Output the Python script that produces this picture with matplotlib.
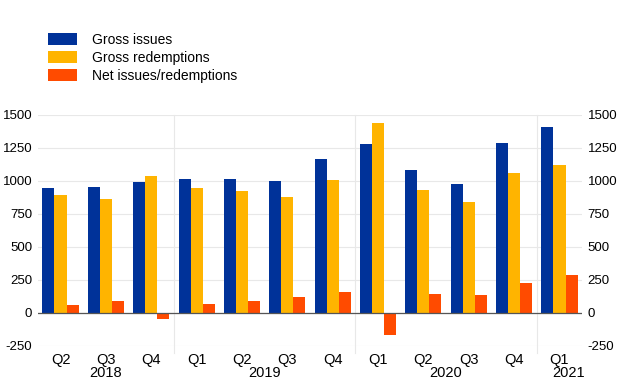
import matplotlib.pyplot as plt
import matplotlib.transforms as mtransforms
import numpy as np

quarters = ["Q2", "Q3", "Q4", "Q1", "Q2", "Q3", "Q4", "Q1", "Q2", "Q3", "Q4", "Q1"]
years = ["2018", "2019", "2020", "2021"]
year_pos = [1.0, 4.5, 8.5, 11.5]
year_breaks = [2.5, 6.5, 10.5]

gross_issues = [950, 955, 995, 1018, 1015, 1000, 1165, 1280, 1080, 980, 1290, 1410]
gross_redemptions = [895, 860, 1040, 950, 925, 878, 1005, 1440, 932, 838, 1062, 1118]
net_issues = [57, 93, -45, 68, 90, 120, 160, -165, 145, 138, 225, 290]

labels = ["Gross issues", "Gross redemptions", "Net issues/redemptions"]
colors = ["#003299", "#FFB400", "#FF4B00"]

plt.rcParams["font.family"] = ["Liberation Sans", "DejaVu Sans"]

fig = plt.figure(figsize=(6.2, 3.87), dpi=100)
ax = fig.add_axes([0.061, 0.106, 0.878, 0.597])

x = np.arange(len(quarters))
w = 0.265
for i, (vals, c) in enumerate(zip([gross_issues, gross_redemptions, net_issues], colors)):
    ax.bar(x + (i - 1) * w, vals, w, color=c, label=labels[i], zorder=3)

ax.set_xlim(-0.5, len(quarters) - 0.5)
ax.set_ylim(-250, 1500)
yt = np.arange(-250, 1501, 250)
ax.set_yticks(yt)
ax.set_yticklabels([str(v) for v in yt], fontsize=9.5)
ax.tick_params(axis="y", length=0, pad=4, labelright=True, labelleft=True)
ax.grid(axis="y", color="#e8e8e8", linewidth=0.8, zorder=0)
ax.axhline(0, color="#555555", linewidth=0.9, zorder=4)
for s in ax.spines.values():
    s.set_visible(False)

ax.set_xticks([])
trans = mtransforms.blended_transform_factory(ax.transData, ax.transAxes)
for xi, q in zip(x, quarters):
    ax.text(xi, -0.03, q, transform=trans, ha="center", va="top", fontsize=10.5)
for xp, y in zip(year_pos, years):
    if y == "2021":
        ax.text(xp + 0.05, -0.085, y, transform=trans, ha="right", va="top", fontsize=10.5)
    else:
        ax.text(xp, -0.085, y, transform=trans, ha="center", va="top", fontsize=10.5)
for xb in year_breaks:
    ax.plot([xb, xb], [1.0, -0.03], transform=trans, color="#e8e8e8",
            linewidth=0.8, clip_on=False, zorder=0)

handles, lbls = ax.get_legend_handles_labels()
fig.legend(handles, lbls, loc="upper left", bbox_to_anchor=(0.077, 0.915),
           frameon=False, fontsize=10, handlelength=2.1, handleheight=0.95,
           labelspacing=0.3, handletextpad=1.1, borderaxespad=0, borderpad=0)

fig.savefig("out.png", dpi=100)
